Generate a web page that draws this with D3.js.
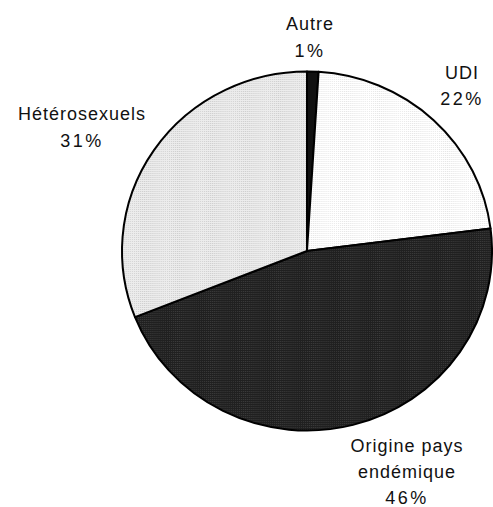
<!DOCTYPE html>
<html><head><meta charset="utf-8">
<script src="https://cdn.jsdelivr.net/npm/d3@7"></script>
<style>body{margin:0;background:#fff}svg{display:block}text{font-family:"Liberation Sans",Arial,sans-serif;font-size:18px;fill:#111}</style>
</head><body>
<script>
const categories = ["Autre", "UDI", "Origine pays endémique", "Hétérosexuels"];
const values = [1, 22, 46, 31];
const labelLines = [["Autre","1%"],["UDI","22%"],["Origine pays","endémique","46%"],["Hétérosexuels","31%"]];
const fills = ["#111111","url(#pUDI)","url(#pOri)","url(#pHet)"];

const W=493,H=507, cx=307, cy=251, ry=179.5, rx=185;
const svg=d3.select("body").append("svg").attr("width",W).attr("height",H);
const defs=svg.append("defs");
function pat(id,bg,dot){
  const p=defs.append("pattern").attr("id",id).attr("patternUnits","userSpaceOnUse").attr("width",2).attr("height",2);
  p.append("rect").attr("width",2).attr("height",2).attr("fill",bg);
  p.append("rect").attr("width",1).attr("height",1).attr("fill",dot);
}
pat("pUDI","#ffffff","#e6e6e6");
pat("pOri","#202020","#3a3a3a");
pat("pHet","#ececec","#cfcfcf");

const pie=d3.pie().sort(null).value(d=>d);
const arcs=pie(values);
const arc=d3.arc().innerRadius(0).outerRadius(ry);
const g=svg.append("g").attr("transform",`translate(${cx},${cy}) scale(${rx/ry},1)`);
g.selectAll("path").data(arcs).join("path")
  .attr("d",arc).attr("fill",(d,i)=>fills[i])
  .attr("stroke","#000").attr("stroke-width",2).attr("stroke-linejoin","round")
  .attr("vector-effect","non-scaling-stroke");

const labelPos=[[310,30],[462,79],[407,452],[82,120]];
const lineGap=[27,26,26,27];
labelPos.forEach((p,i)=>{
  const t=svg.append("text").attr("text-anchor","middle");
  labelLines[i].forEach((s,j)=>{
    t.append("tspan").attr("x",p[0]).attr("y",p[1]+j*lineGap[i]).text(s)
     .attr("letter-spacing", /%/.test(s)?"2.5px":"1px");
  });
});
</script>
</body></html>
